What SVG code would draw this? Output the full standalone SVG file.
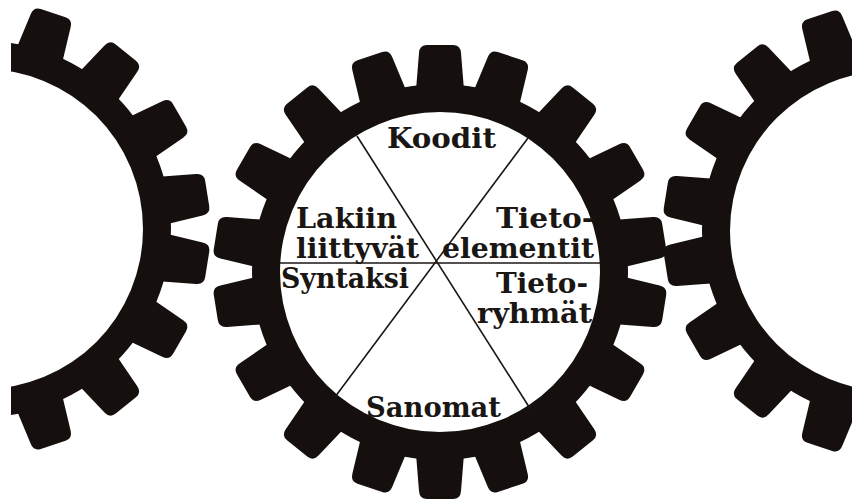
<svg xmlns="http://www.w3.org/2000/svg" xmlns:xlink="http://www.w3.org/1999/xlink" width="852" height="503" viewBox="0 0 852 503">
  <style>
    .gear { fill: #15100e; }
    .lbl { font-family: "DejaVu Serif", "Liberation Serif", serif; font-size: 27px; font-weight: bold; fill: #1a1614; }
    .div { stroke: #1a1614; stroke-width: 1.6; fill: none; }
  </style>
  <defs>
    <clipPath id="clipLeft"><rect x="11" y="0" width="300" height="503"/></clipPath>
    <path id="tooth" d="M -24 -182 L -21 -219 Q -20.5 -227 -13 -227 L 13 -227 Q 20.5 -227 21 -219 L 24 -182 Z"/>
    <g id="gearShape">
      <path fill-rule="evenodd" d="M 188 0 A 188 188 0 1 0 -188 0 A 188 188 0 1 0 188 0 Z M 160 0 A 160 160 0 1 1 -160 0 A 160 160 0 1 1 160 0 Z"/>
      <use xlink:href="#tooth" href="#tooth" transform="rotate(0)"/>
      <use xlink:href="#tooth" href="#tooth" transform="rotate(18)"/>
      <use xlink:href="#tooth" href="#tooth" transform="rotate(39)"/>
      <use xlink:href="#tooth" href="#tooth" transform="rotate(60)"/>
      <use xlink:href="#tooth" href="#tooth" transform="rotate(81)"/>
      <use xlink:href="#tooth" href="#tooth" transform="rotate(99)"/>
      <use xlink:href="#tooth" href="#tooth" transform="rotate(120)"/>
      <use xlink:href="#tooth" href="#tooth" transform="rotate(141)"/>
      <use xlink:href="#tooth" href="#tooth" transform="rotate(162)"/>
      <use xlink:href="#tooth" href="#tooth" transform="rotate(180)"/>
      <use xlink:href="#tooth" href="#tooth" transform="rotate(198)"/>
      <use xlink:href="#tooth" href="#tooth" transform="rotate(219)"/>
      <use xlink:href="#tooth" href="#tooth" transform="rotate(240)"/>
      <use xlink:href="#tooth" href="#tooth" transform="rotate(261)"/>
      <use xlink:href="#tooth" href="#tooth" transform="rotate(279)"/>
      <use xlink:href="#tooth" href="#tooth" transform="rotate(300)"/>
      <use xlink:href="#tooth" href="#tooth" transform="rotate(321)"/>
      <use xlink:href="#tooth" href="#tooth" transform="rotate(342)"/>
    </g>
  </defs>
  <rect x="0" y="0" width="852" height="503" fill="#ffffff"/>

  <g id="gear-left" class="gear" clip-path="url(#clipLeft)">
    <use xlink:href="#gearShape" href="#gearShape" transform="translate(-17 229)"/>
  </g>
  <g id="gear-right" class="gear">
    <use xlink:href="#gearShape" href="#gearShape" transform="translate(890 231)"/>
  </g>
  <g id="gear-center" class="gear">
    <use xlink:href="#gearShape" href="#gearShape" transform="translate(440 272)"/>
  </g>

  <g id="connectors">
    <line class="div" x1="280" y1="263" x2="600" y2="263"/>
    <line class="div" x1="357" y1="136" x2="531" y2="410"/>
    <line class="div" x1="528" y1="138" x2="335" y2="397"/>
  </g>

  <g id="seg-koodit"><text class="lbl" x="387" y="148" textLength="109" lengthAdjust="spacingAndGlyphs">Koodit</text></g>
  <g id="seg-lakiin">
    <text class="lbl" x="296" y="228" textLength="101" lengthAdjust="spacingAndGlyphs">Lakiin</text>
    <text class="lbl" x="296" y="258" textLength="123" lengthAdjust="spacingAndGlyphs">liittyvät</text>
  </g>
  <g id="seg-syntaksi"><text class="lbl" x="281" y="288" textLength="128" lengthAdjust="spacingAndGlyphs">Syntaksi</text></g>
  <g id="seg-tietoelementit">
    <text class="lbl" x="496" y="228" textLength="98" lengthAdjust="spacingAndGlyphs">Tieto-</text>
    <text class="lbl" x="442" y="258" textLength="152" lengthAdjust="spacingAndGlyphs">elementit</text>
  </g>
  <g id="seg-tietoryhmat">
    <text class="lbl" x="496" y="293" textLength="92" lengthAdjust="spacingAndGlyphs">Tieto-</text>
    <text class="lbl" x="477" y="323" textLength="115" lengthAdjust="spacingAndGlyphs">ryhmät</text>
  </g>
  <g id="seg-sanomat"><text class="lbl" x="366" y="417" textLength="135" lengthAdjust="spacingAndGlyphs">Sanomat</text></g>
</svg>
